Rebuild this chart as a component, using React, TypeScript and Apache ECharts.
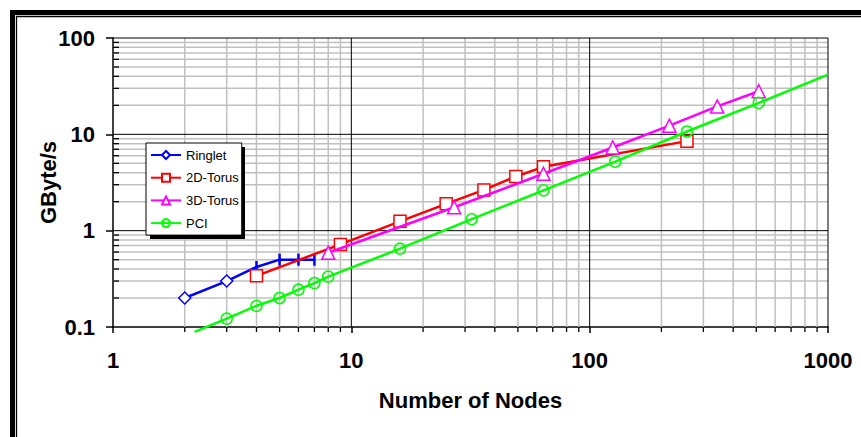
import React, { useEffect, useRef } from 'react';
import * as echarts from 'echarts';

const seriesNames = ['Ringlet', '2D-Torus', '3D-Torus', 'PCI'];

const ringletNodes = [2, 3, 4, 5, 6, 7];
const ringletGBs = [0.2, 0.3, 0.42, 0.5, 0.5, 0.5];

const torus2DNodes = [4, 9, 16, 25, 36, 49, 64, 256];
const torus2DGBs = [0.34, 0.72, 1.25, 1.9, 2.65, 3.65, 4.6, 8.5];

const torus3DNodes = [8, 27, 64, 125, 216, 343, 512];
const torus3DGBs = [0.59, 1.75, 3.9, 7.3, 12.3, 19.5, 28];

const pciNodes = [3, 4, 5, 6, 7, 8, 16, 32, 64, 128, 256, 512];
const pciGBs = [0.122, 0.166, 0.2, 0.244, 0.286, 0.333, 0.65, 1.32, 2.62, 5.2, 10.7, 21.2];
const pciTrendNodes = [2.2, 1000];
const pciTrendGBs = [0.089, 41.7];

const xTickLabels = ['1', '10', '100', '1000'];
const yTickLabels = ['0.1', '1', '10', '100'];

const xMinorGrid = [2, 3, 4, 5, 6, 7, 8, 9, 20, 30, 40, 50, 60, 70, 80, 90, 200, 300, 400, 500, 600, 700, 800, 900];
const yMinorGrid = [0.2, 0.3, 0.4, 0.5, 0.6, 0.7, 0.8, 0.9, 2, 3, 4, 5, 6, 7, 8, 9, 20, 30, 40, 50, 60, 70, 80, 90];
const xMajorGrid = [10, 100, 1000];
const yMajorGrid = [1, 10, 100];

const FONT = '"Liberation Sans", Arial, sans-serif';

function pickLabel(labels: string[], v: number) {
  const idx = Math.round(Math.log10(v) - Math.log10(Number(labels[0])));
  return labels[idx] ?? String(v);
}

export default function App() {
  const ref = useRef<HTMLDivElement>(null);

  useEffect(() => {
    if (!ref.current) return;
    const chart = echarts.init(ref.current, undefined, { renderer: 'svg' });

    const gridItems: any[] = [];
    xMinorGrid.forEach((v) => gridItems.push([v, 0.1, 0, 0]));
    yMinorGrid.forEach((v) => gridItems.push([1, v, 1, 0]));
    xMajorGrid.forEach((v) => gridItems.push([v, 0.1, 0, 1]));
    yMajorGrid.forEach((v) => gridItems.push([1, v, 1, 1]));

    const hollow = (c: string) => ({ color: '#ffffff', borderColor: c, borderWidth: 1.5 });

    const ringletData = ringletNodes.map((x, i) =>
      i < 2
        ? [x, ringletGBs[i]]
        : { value: [x, ringletGBs[i]], symbol: 'rect', symbolSize: [2.5, 12], itemStyle: { color: '#0000ff', borderWidth: 0 } }
    );

    const pciData: any[] = [
      { value: [pciTrendNodes[0], pciTrendGBs[0]], symbol: 'none' },
      ...pciNodes.map((x, i) => [x, pciGBs[i]]),
      { value: [pciTrendNodes[1], pciTrendGBs[1]], symbol: 'none' },
    ];

    const axisText = { fontFamily: FONT, fontSize: 22, fontWeight: 'bold', color: '#000' };

    chart.setOption({
      animation: false,
      backgroundColor: '#ffffff',
      grid: { left: 113, top: 38, width: 715, height: 289, containLabel: false },
      xAxis: {
        type: 'log',
        logBase: 10,
        min: 1,
        max: 1000,
        name: 'Number of Nodes',
        nameLocation: 'middle',
        nameGap: 62,
        nameTextStyle: axisText,
        axisLine: { show: true, onZero: false, lineStyle: { color: '#000', width: 1.5 } },
        axisTick: { show: true, length: 6, lineStyle: { color: '#000', width: 1.5 } },
        axisLabel: { ...axisText, margin: 22, formatter: (v: number) => pickLabel(xTickLabels, v) },
        splitLine: { show: false },
      },
      yAxis: {
        type: 'log',
        logBase: 10,
        min: 0.1,
        max: 100,
        name: 'GByte/s',
        nameLocation: 'middle',
        nameGap: 54,
        nameMoveOverlap: false,
        nameTextStyle: axisText,
        axisLine: { show: true, onZero: false, lineStyle: { color: '#000', width: 1.5 } },
        axisTick: { show: true, length: 7, lineStyle: { color: '#000', width: 1.5 } },
        axisLabel: { ...axisText, margin: 18, formatter: (v: number) => pickLabel(yTickLabels, v) },
        splitLine: { show: false },
      },
      legend: {
        data: seriesNames,
        orient: 'vertical',
        left: 146,
        top: 143,
        padding: [5.5, 3, 5.5, 4],
        itemWidth: 30,
        itemHeight: 10,
        itemGap: 9.7,
        backgroundColor: '#ffffff',
        borderColor: '#000',
        borderWidth: 1,
        borderRadius: 0,
        selectedMode: false,
        textStyle: { fontFamily: FONT, fontSize: 13, color: '#000', lineHeight: 13 },
      },
      graphic: [
        { type: 'rect', silent: true, z: 3, shape: { x: 150, y: 147, width: 95, height: 92 }, style: { fill: '#000' } },
        { type: 'rect', silent: true, z: 10, shape: { x: 12.5, y: 12.5, width: 1000, height: 1000 }, style: { fill: 'none', stroke: '#000', lineWidth: 5 } },
        { type: 'rect', silent: true, z: 10, shape: { x: 16.5, y: 16.5, width: 1000, height: 1000 }, style: { fill: 'none', stroke: '#000', lineWidth: 1.3 } },
      ],
      series: [
        {
          type: 'custom',
          name: 'gridlines',
          silent: true,
          z: 1,
          clip: false,
          data: gridItems,
          renderItem: (params: any, api: any) => {
            const x = api.value(0);
            const y = api.value(1);
            const kind = api.value(2);
            const major = api.value(3);
            const cs = params.coordSys;
            const p = api.coord([x, y]);
            const style = { stroke: major ? '#000' : '#c0c0c0', lineWidth: major ? 1 : 1.5 };
            const tickStyle = { stroke: '#000', lineWidth: 1.3 };
            if (kind === 0) {
              const children: any[] = [
                { type: 'line', shape: { x1: p[0], y1: cs.y, x2: p[0], y2: cs.y + cs.height }, style },
              ];
              if (!major) children.push({ type: 'line', shape: { x1: p[0], y1: cs.y + cs.height, x2: p[0], y2: cs.y + cs.height + 5 }, style: tickStyle });
              return { type: 'group', children };
            }
            const children: any[] = [
              { type: 'line', shape: { x1: cs.x, y1: p[1], x2: cs.x + cs.width, y2: p[1] }, style },
            ];
            if (!major) children.push({ type: 'line', shape: { x1: cs.x, y1: p[1], x2: cs.x + 6, y2: p[1] }, style: tickStyle });
            return { type: 'group', children };
          },
        },
        {
          type: 'line',
          name: seriesNames[0],
          data: ringletData,
          symbol: 'diamond',
          symbolSize: 12,
          showAllSymbol: true,
          lineStyle: { color: '#0000ff', width: 2.5 },
          itemStyle: hollow('#0000ff'),
          z: 2,
        },
        {
          type: 'line',
          name: seriesNames[1],
          data: torus2DNodes.map((x, i) => [x, torus2DGBs[i]]),
          symbol: 'rect',
          symbolSize: 12,
          showAllSymbol: true,
          lineStyle: { color: '#ff0000', width: 2.5 },
          itemStyle: hollow('#ff0000'),
          z: 3,
        },
        {
          type: 'line',
          name: seriesNames[2],
          data: torus3DNodes.map((x, i) => [x, torus3DGBs[i]]),
          symbol: 'triangle',
          symbolSize: 13,
          showAllSymbol: true,
          lineStyle: { color: '#ff00ff', width: 2.5 },
          itemStyle: hollow('#ff00ff'),
          z: 4,
        },
        {
          type: 'line',
          name: seriesNames[3],
          data: pciData,
          symbol: 'circle',
          symbolSize: 11,
          showAllSymbol: true,
          clip: false,
          lineStyle: { color: '#00ff00', width: 2.5 },
          itemStyle: { color: 'rgba(255,255,255,0)', borderColor: '#00ff00', borderWidth: 1.5 },
          z: 5,
        },
      ],
    });

    return () => chart.dispose();
  }, []);

  return <div ref={ref} style={{ position: 'absolute', left: 0, top: 0, width: 861, height: 437 }} />;
}
